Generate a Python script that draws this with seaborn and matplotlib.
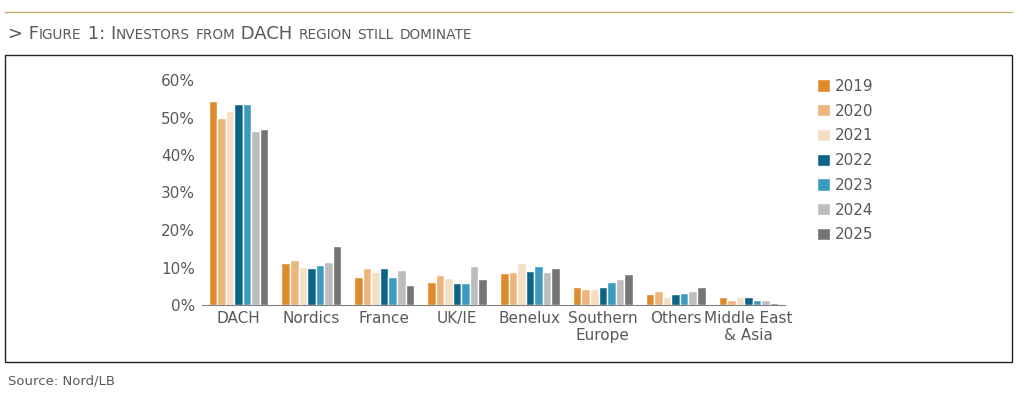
import numpy as np
import pandas as pd
import matplotlib
matplotlib.use("Agg")
import matplotlib.pyplot as plt
import seaborn as sns

# data (share of investors, %)
regions = ['DACH', 'Nordics', 'France', 'UK/IE', 'Benelux',
           'Southern\nEurope', 'Others', 'Middle East\n& Asia']
years = ['2019', '2020', '2021', '2022', '2023', '2024', '2025']
share_2019 = [54.5, 11.1, 7.4, 6.2, 8.6, 4.8, 2.9, 2.2]
share_2020 = [49.8, 12.0, 9.9, 8.0, 8.9, 4.2, 3.7, 1.3]
share_2021 = [51.8, 10.2, 8.8, 7.1, 11.1, 4.2, 2.2, 2.2]
share_2022 = [53.5, 9.9, 10.0, 5.8, 9.1, 4.8, 2.9, 2.2]
share_2023 = [53.5, 10.6, 7.4, 5.8, 10.4, 6.2, 3.1, 1.3]
share_2024 = [46.4, 11.6, 9.3, 10.4, 8.9, 6.9, 3.7, 1.3]
share_2025 = [46.9, 15.7, 5.3, 6.9, 9.9, 8.3, 4.8, 0.5]
colors = ['#DF8B2B', '#EDB57C', '#F6DEC4', '#0D6387', '#3B9BBE', '#BDBDBD', '#747474']

all_shares = [share_2019, share_2020, share_2021, share_2022,
              share_2023, share_2024, share_2025]
df = pd.DataFrame({
    'region': regions * len(years),
    'year': [y for y in years for _ in regions],
    'share': [v / 100 for s in all_shares for v in s],
})

TXT = '#595959'
W, H = 1032, 396
fig = plt.figure(figsize=(W / 100, H / 100), dpi=100)

# plot area
ax = fig.add_axes([202 / W, 1 - 305 / H, 583 / W, 225 / H])
sns.barplot(data=df, x='region', y='share', hue='year', palette=colors,
            saturation=1, width=0.82, edgecolor='white', linewidth=1.0, ax=ax)
ax.set_ylim(0, 0.6)
ax.set_xlim(-0.5, len(regions) - 0.5)
ax.set_yticks(np.arange(0, 0.61, 0.1))
ax.set_yticklabels([f'{int(round(t * 100))}%' for t in np.arange(0, 0.61, 0.1)])
ax.set_xlabel('')
ax.set_ylabel('')
for s in ['top', 'right', 'left']:
    ax.spines[s].set_visible(False)
ax.spines['bottom'].set_color('#808080')
ax.tick_params(axis='both', length=0, colors=TXT, labelsize=11)
ax.tick_params(axis='y', pad=5)
ax.tick_params(axis='x', pad=4)

handles, labels = ax.get_legend_handles_labels()
ax.legend(handles, labels, loc='upper left', bbox_to_anchor=(803 / W, 1 - 65 / H),
          bbox_transform=fig.transFigure, frameon=False, fontsize=11,
          handlelength=0.85, handleheight=0.85, handletextpad=0.35,
          labelspacing=0.64, labelcolor=TXT)

# frame, top rule and source
fig.add_artist(plt.Rectangle((5 / W, 1 - 362 / H), 1007 / W, 307 / H,
                             transform=fig.transFigure, fill=False,
                             edgecolor='#222222', linewidth=1.0))
fig.add_artist(plt.Line2D([5 / W, 1012 / W], [1 - 12 / H, 1 - 12 / H],
                          transform=fig.transFigure, color='#C9AC6E', linewidth=1.0))
fig.text(8 / W, 1 - 381 / H, 'Source: Nord/LB', color=TXT, fontsize=9.5, va='center')

# title in small caps, built from runs of big and small capitals
title = '> Figure 1: Investors from DACH region still dominate'
renderer = fig.canvas.get_renderer()
x = 8.0
y = 1 - 39 / H
runs = []
for ch in title:
    big = not ch.islower()
    if runs and runs[-1][1] == big:
        runs[-1][0] += ch
    else:
        runs.append([ch, big])
for txt, big in runs:
    t = fig.text(x / W, y, txt.upper(), color=TXT, fontsize=13.0 if big else 9.8,
                 va='baseline', ha='left')
    x += t.get_window_extent(renderer).width

fig.savefig('out.png', dpi=100)
